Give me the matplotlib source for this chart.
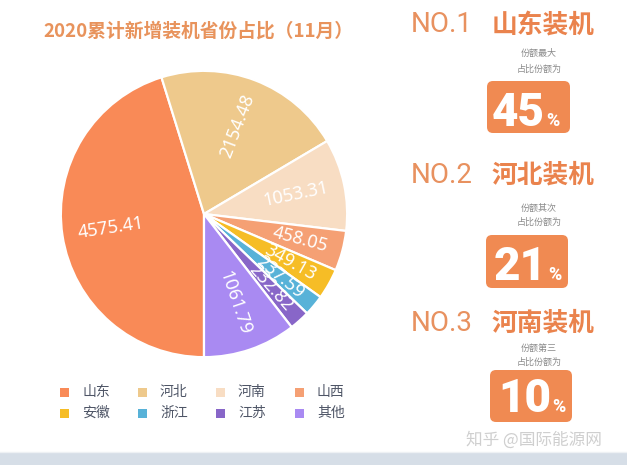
import matplotlib
matplotlib.use("Agg")
import matplotlib.pyplot as plt
from matplotlib.patches import FancyBboxPatch, Rectangle
import numpy as np

plt.rcParams['font.family'] = ['Noto Sans CJK SC', 'DejaVu Sans']

# ---- data ----
provinces = ['山东', '河北', '河南', '山西', '安徽', '浙江', '江苏', '其他']
values = [4575.41, 2154.48, 1053.31, 458.05, 349.13, 237.59, 232.82, 1061.79]
colors = ['#F98A57', '#EEC98C', '#F8DDC3', '#F5A074', '#F6BD26', '#58B2D8', '#8866C8', '#A98AF2']
title = '2020累计新增装机省份占比（11月）'
rank_titles = ['NO.1', 'NO.2', 'NO.3']
rank_names = ['山东装机', '河北装机', '河南装机']
rank_desc = ['份额最大', '份额其次', '份额第三']
rank_desc2 = ['占比份额为', '占比份额为', '占比份额为']
rank_pct = [45, 21, 10]
watermark = '知乎 @国际能源网'

W, H = 627, 465
fig = plt.figure(figsize=(W / 100, H / 100), dpi=100)
fig.patch.set_facecolor('white')

# ---- pie ----
cx, cy, r = 204, 214, 146
pie_ax = fig.add_axes([(cx - r) / W, 1 - (cy + r) / H, 2 * r / W, 2 * r / H])
wedges, _ = pie_ax.pie(values, colors=colors, startangle=270, counterclock=False,
                       radius=1.0, wedgeprops=dict(edgecolor='white', linewidth=1.6))
pie_ax.set_xlim(-1.02, 1.02)
pie_ax.set_ylim(-1.02, 1.02)
pie_ax.set_aspect('equal')
pie_ax.axis('off')

for w, v in zip(wedges, values):
    th = np.deg2rad((w.theta1 + w.theta2) / 2)
    x, y = 0.89 * np.cos(th), 0.89 * np.sin(th)
    deg = np.rad2deg(th) % 360
    if np.cos(th) >= 0:
        rot = deg if deg <= 90 else deg - 360
        ha = 'right'
    else:
        rot = deg - 180
        ha = 'left'
    pie_ax.text(x, y, f'{v:.2f}', rotation=rot, rotation_mode='anchor', ha=ha, va='center',
                color='white', fontsize=13, family='Noto Sans', fontweight='semibold')

# ---- overlay in pixel coords ----
ov = fig.add_axes([0, 0, 1, 1], zorder=5)
ov.set_xlim(0, W)
ov.set_ylim(H, 0)
ov.axis('off')
ov.patch.set_alpha(0)

ov.text(198, 31, title, ha='center', va='center', color='#E8935C', fontsize=13.5, fontweight='bold')

# legend (two rows of four)
col_x = [60, 138, 216, 295]
row_y = [392, 413]
for i, (name, c) in enumerate(zip(provinces, colors)):
    rr, cc = divmod(i, 4)
    ov.add_patch(Rectangle((col_x[cc], row_y[rr] - 4.5), 9, 9, facecolor=c, edgecolor='none'))
    ov.text(col_x[cc] + 22, row_y[rr], name, ha='left', va='center', color='#4E5566', fontsize=10)

# right-hand ranking panels
head_y = [25, 175, 323]
desc_y = [(53, 69), (208, 222), (348, 362)]
box = [(487, 81, 83, 52), (486, 235, 82, 53), (490, 370, 82, 52)]
num_base = [126, 280, 412]
num_right = [545, 547, 551]
for k in range(3):
    ov.text(442, head_y[k], rank_titles[k], ha='center', va='center', color='#E8915F',
            fontsize=20, family='Roboto', fontweight='normal')
    ov.text(543, head_y[k], rank_names[k], ha='center', va='center', color='#EA834D',
            fontsize=18.5, fontweight='bold')
    ov.text(539, desc_y[k][0], rank_desc[k], ha='center', va='center', color='#8A8A8A', fontsize=6.5)
    ov.text(539, desc_y[k][1], rank_desc2[k], ha='center', va='center', color='#8A8A8A', fontsize=6.5)
    bx, by, bw, bh = box[k]
    ov.add_patch(FancyBboxPatch((bx + 6, by + 6), bw - 12, bh - 12,
                                boxstyle='round,pad=6', facecolor='#F08A52', edgecolor='none'))
    ov.text(num_right[k], num_base[k], f'{rank_pct[k]}', ha='right', va='baseline', color='white',
            fontsize=33, family='Roboto', fontweight='black')
    ov.text(num_right[k] + 1, num_base[k], '%', ha='left', va='baseline', color='white',
            fontsize=13, family='Roboto', fontweight='black')

# watermark and bottom strip
ov.text(534, 440, watermark, ha='center', va='center', color='#CFCFCF', fontsize=12)
ov.add_patch(Rectangle((0, 453), W, 12, facecolor='#D6DEE7', edgecolor='none'))
ov.plot([0, W], [452, 452], color='#EEF1F4', lw=1)

fig.savefig('out.png', dpi=100, facecolor='white')
